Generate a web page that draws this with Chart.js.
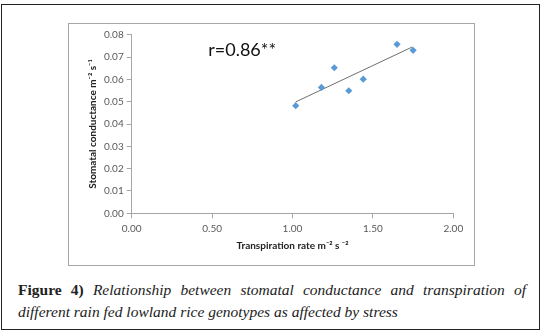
<!DOCTYPE html>
<html><head><meta charset="utf-8">
<script src="https://cdn.jsdelivr.net/npm/chart.js@4.4.1/dist/chart.umd.min.js"></script>
<style>
html,body{margin:0;padding:0;background:#fff;width:544px;height:335px;overflow:hidden;}
#frame{position:absolute;left:1px;top:4px;width:539px;height:326px;border:1px solid #222;box-sizing:border-box;}
#chartBorder{position:absolute;left:68px;top:23px;width:407px;height:243px;border:1px solid #a6a6a6;box-sizing:border-box;}
#chartBox{position:absolute;left:68px;top:23px;width:406px;height:243px;}
.cap{position:absolute;left:18px;width:508px;font-family:"Liberation Serif","DejaVu Serif",serif;font-size:15.5px;color:#222;white-space:nowrap;}
.cap b{font-style:normal;font-weight:bold;}
.cap i{font-style:italic;}
#cap1{top:281px;text-align:justify;text-align-last:justify;white-space:normal;}
#cap2{top:303px;}
</style></head>
<body>
<div id="frame"></div>
<div id="chartBorder"></div>
<div id="chartBox"><canvas id="c"></canvas></div>
<div class="cap" id="cap1"><b>Figure 4)</b> <i>Relationship between stomatal conductance and transpiration of</i></div>
<div class="cap" id="cap2"><i>different rain fed lowland rice genotypes as affected by stress</i></div>
<script>
const transpiration = [1.02, 1.18, 1.26, 1.35, 1.44, 1.65, 1.75];
const conductance = [0.0482, 0.0564, 0.0652, 0.0549, 0.0601, 0.0757, 0.0730];
const trendX = [1.02, 1.745];
const trendY = [0.0499, 0.0745];
const xTicks = [0, 0.5, 1, 1.5, 2];
const yTicks = [0, 0.01, 0.02, 0.03, 0.04, 0.05, 0.06, 0.07, 0.08];
const annotationText = 'r=0.86**';
const xTitle = 'Transpiration rate m\u207B\u00B2 s \u207B\u00B2';
const yTitle = 'Stomatal conductance m\u207B\u00B2 s\u207B\u00B9';

const pts = transpiration.map((x, i) => ({x, y: conductance[i]}));
const trend = trendX.map((x, i) => ({x, y: trendY[i]}));

const annot = {
  id: 'annot',
  afterDraw(chart) {
    const ctx = chart.ctx;
    const a = chart.chartArea;
    ctx.save();
    ctx.font = '18px Lato, "Liberation Sans", sans-serif';
    ctx.fillStyle = '#111';
    ctx.textBaseline = 'middle';
    ctx.textAlign = 'left';
    ctx.fillText(annotationText, a.left + 76.5, a.top + 15.5);
    ctx.restore();
  }
};

new Chart(document.getElementById('c'), {
  type: 'scatter',
  data: {
    datasets: [
      {data: trend, type: 'line', showLine: true, borderColor: '#6e6e6e', borderWidth: 1, pointRadius: 0, fill: false, order: 2},
      {data: pts, pointStyle: 'rectRot', pointRadius: 3.6, backgroundColor: '#5b9bd5', borderColor: '#5b9bd5', borderWidth: 0, order: 1}
    ]
  },
  options: {
    responsive: true, maintainAspectRatio: false, animation: false,
    devicePixelRatio: 1,
    layout: {padding: {top: 11.7, right: 20.7, left: 0, bottom: 0}},
    plugins: {legend: {display: false}, tooltip: {enabled: false}},
    scales: {
      x: {
        type: 'linear', min: 0, max: 2,
        afterBuildTicks: s => { s.ticks = xTicks.map(v => ({value: v})); },
        afterFit: s => { s.height = 52.7; },
        grid: {display: true, drawOnChartArea: false, drawTicks: true, tickLength: 5, color: '#a6a6a6'},
        border: {display: true, color: '#a6a6a6'},
        ticks: {padding: 4, color: '#595959', font: {family: 'Lato, "Liberation Sans", sans-serif', size: 10}, callback: v => Number(v).toFixed(2), maxRotation: 0},
        title: {display: true, text: xTitle, color: '#222', font: {family: 'Lato, "Liberation Sans", sans-serif', size: 10, weight: 'bold', lineHeight: 1.2}, padding: {top: 0, bottom: 14.3}}
      },
      y: {
        type: 'linear', min: 0, max: 0.08,
        afterBuildTicks: s => { s.ticks = yTicks.map(v => ({value: v})); },
        afterFit: s => { s.width = 63.7; },
        grid: {display: true, drawOnChartArea: false, drawTicks: true, tickLength: 5, color: '#a6a6a6'},
        border: {display: true, color: '#a6a6a6'},
        ticks: {padding: 3, color: '#595959', font: {family: 'Lato, "Liberation Sans", sans-serif', size: 10}, callback: v => Number(v).toFixed(2)},
        title: {display: true, text: yTitle, color: '#222', font: {family: 'Lato, "Liberation Sans", sans-serif', size: 10, weight: 'bold', lineHeight: 1.2}, padding: {top: 18.3, bottom: 0}}
      }
    }
  },
  plugins: [annot]
});
</script>
</body></html>
